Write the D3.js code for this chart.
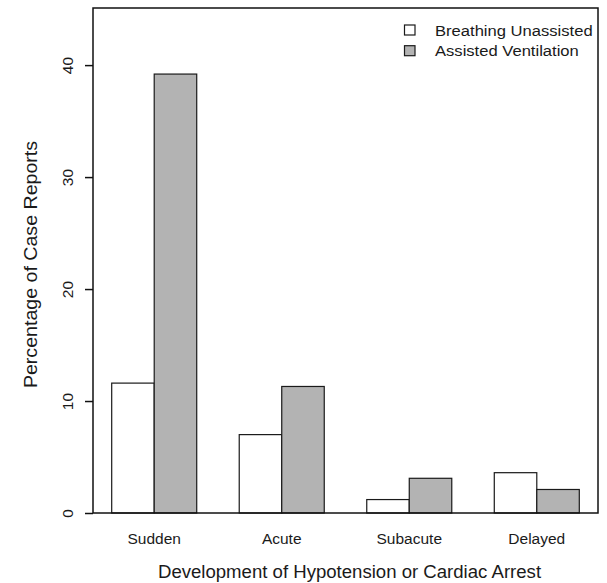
<!DOCTYPE html>
<html><head><meta charset="utf-8">
<script src="https://cdn.jsdelivr.net/npm/d3@7"></script>
<style>html,body{margin:0;padding:0;background:#fff;} svg{display:block;} text{font-family:"Liberation Sans",Arial,Helvetica,sans-serif;fill:#1a1a1a;}</style>
</head><body>
<svg id="chart" width="607" height="583"></svg>
<script>
const categories = ["Sudden", "Acute", "Subacute", "Delayed"];
const seriesNames = ["Breathing Unassisted", "Assisted Ventilation"];
const unassisted = [11.6, 7.0, 1.2, 3.6];
const assisted = [39.2, 11.3, 3.1, 2.1];
const yTicks = [0, 10, 20, 30, 40];
const xTitle = "Development of Hypotension or Cardiac Arrest";
const yTitle = "Percentage of Case Reports";

const colors = ["#ffffff", "#b3b3b3"];
const series = [unassisted, assisted];

const svg = d3.select("#chart");
const pL = 93, pR = 598, pT = 8, pB = 513;

// R barplot style: each group = 2 bars of width 1 + gap of 1
const x = d3.scaleLinear().domain([0.56, 12.44]).range([pL, pR]);
const y = d3.scaleLinear().domain([0, 45.1]).range([pB, pT]);

// bars
series.forEach((vals, s) => {
  svg.append("g").selectAll("rect").data(vals).join("rect")
    .attr("x", (d, i) => x(1 + i * 3 + s))
    .attr("width", x(2) - x(1))
    .attr("y", d => y(d))
    .attr("height", d => y(0) - y(d))
    .attr("fill", colors[s])
    .attr("stroke", "#1a1a1a")
    .attr("stroke-width", 1.2);
});

// frame
svg.append("rect").attr("x", pL).attr("y", pT)
  .attr("width", pR - pL).attr("height", pB - pT)
  .attr("fill", "none").attr("stroke", "#111").attr("stroke-width", 1.5);

// y axis
const yAxis = d3.axisLeft(y).tickValues(yTicks).tickSize(8).tickPadding(0).tickFormat(d3.format("d"));
const ya = svg.append("g").attr("transform", `translate(${pL},0)`).call(yAxis);
ya.select(".domain").remove();
ya.selectAll(".tick line").attr("stroke", "#111").attr("stroke-width", 1.5);
ya.selectAll(".tick text")
  .attr("x", 0).attr("dy", null).attr("y", 0)
  .attr("text-anchor", "middle")
  .attr("transform", "translate(-20,0) rotate(-90)")
  .style("font-size", "15.5px").attr("fill", "#1a1a1a")
  .style("font-family", "'Liberation Sans',Arial,Helvetica,sans-serif");

// x category labels
svg.append("g").selectAll("text").data(categories).join("text")
  .attr("x", (d, i) => x(2 + i * 3))
  .attr("y", 544)
  .attr("text-anchor", "middle")
  .style("font-size", "15.5px")
  .text(d => d);

// axis titles
svg.append("text").attr("transform", `translate(${(pL + pR) / 2 + 4},578) scale(1.005,1)`)
  .attr("text-anchor", "middle").style("font-size", "18.5px").text(xTitle);
svg.append("text")
  .attr("transform", `translate(37,${(pT + pB) / 2 + 4}) rotate(-90) scale(1.06,1)`)
  .attr("text-anchor", "middle").style("font-size", "18.5px").text(yTitle);

// legend
const lg = svg.append("g");
seriesNames.forEach((name, i) => {
  const cy = 30 + i * 20.7;
  lg.append("rect").attr("x", 404.5).attr("y", cy - 5).attr("width", 10.5).attr("height", 10)
    .attr("fill", colors[i]).attr("stroke", "#1a1a1a").attr("stroke-width", 1.2);
  lg.append("text").attr("transform", `translate(435,${cy + 5.6}) scale(1.07,1)`)
    .style("font-size", "15.5px").text(name);
});
</script>
</body></html>
